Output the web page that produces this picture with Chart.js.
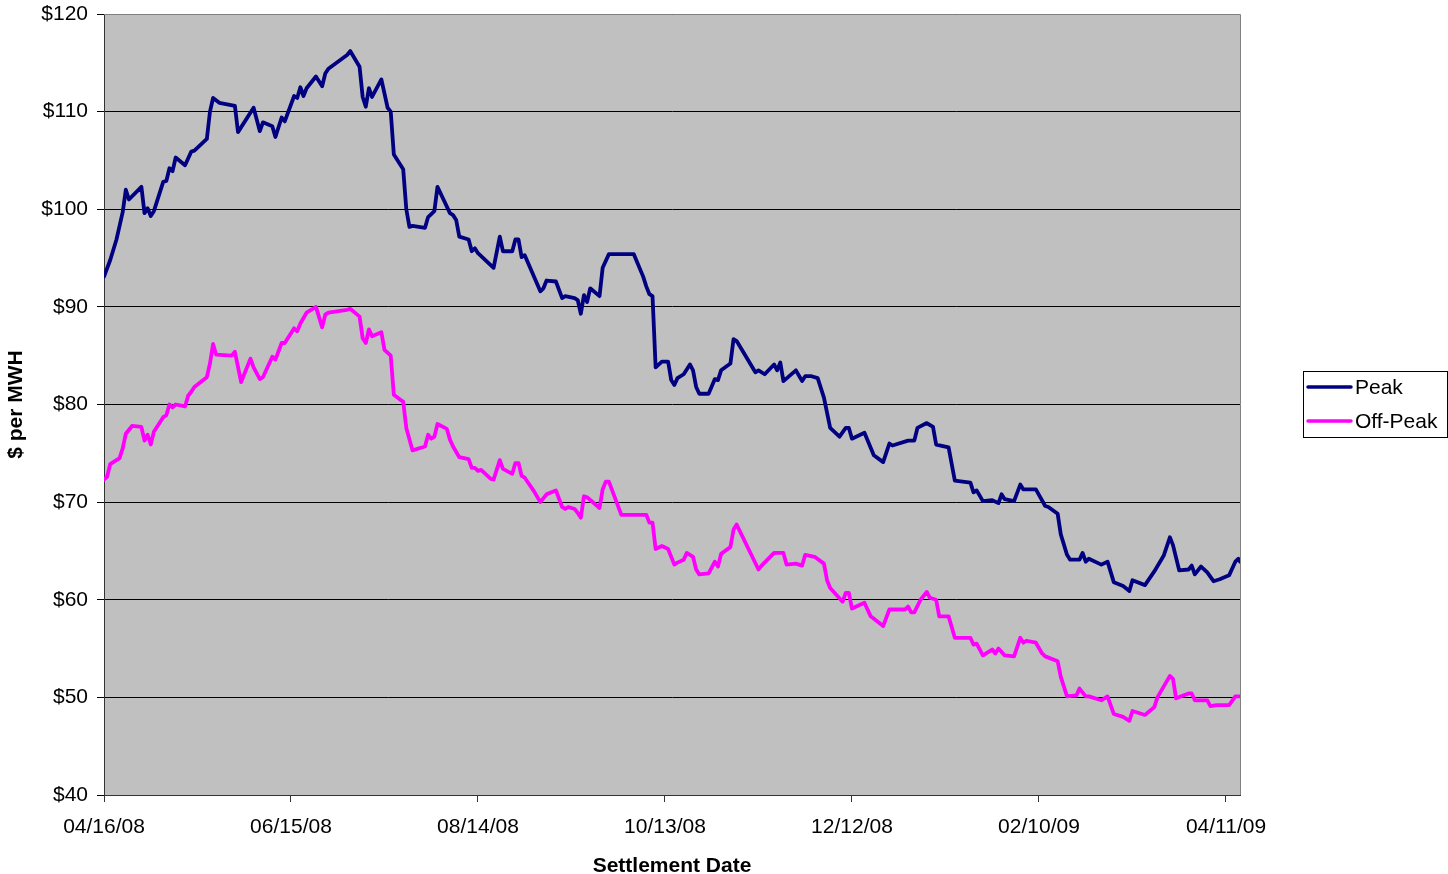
<!DOCTYPE html>
<html><head><meta charset="utf-8">
<script src="https://cdn.jsdelivr.net/npm/chart.js@4.4.1/dist/chart.umd.min.js"></script>
<style>html,body{margin:0;padding:0;background:#fff;overflow:hidden}#wrap{width:1448px;height:874px}</style>
</head><body><div id="wrap"><canvas id="c" width="1448" height="874"></canvas></div>
<script>
// X tick labels (every 60 days from 04/16/08)
const tickLabels = ['04/16/08','06/15/08','08/14/08','10/13/08','12/12/08','02/10/09','04/11/09'];
const seriesNames = ['Peak','Off-Peak'];

// Days since 04/16/08 and $ per MWH
const peakDays = [0,2,4,6,7,8,12,13,14,15,16,19,20,21,22,23,26,28,29,33,34,35,37,42,43,48,50,51,54,55,57,58,61,62,63,64,65,68,70,71,72,78,79,82,83,84,85,86,89,91,92,93,96,97,98,99,103,104,106,107,111,112,113,114,117,118,119,120,125,127,128,131,132,133,134,135,140,141,142,145,147,148,151,152,153,154,155,156,159,160,162,170,173,174,175,176,177,179,181,182,183,184,186,188,189,190,191,194,196,197,198,201,202,203,209,210,212,215,216,217,218,222,224,225,227,229,231,233,236,238,239,240,244,247,250,252,253,258,260,261,264,266,267,271,273,278,279,280,282,285,287,288,289,292,294,295,299,302,303,306,307,309,310,313,314,315,316,320,322,324,327,329,330,334,337,340,342,343,345,348,349,350,352,354,356,358,361,363,364,364.5];
const peakValues = [93.1,94.8,96.9,99.7,102.0,101.0,102.3,99.6,100.1,99.3,99.8,102.8,102.9,104.2,103.9,105.3,104.5,105.9,106.0,107.2,110.0,111.4,110.9,110.6,107.9,110.4,108.0,108.9,108.5,107.4,109.4,109.0,111.6,111.4,112.5,111.6,112.4,113.6,112.6,113.9,114.4,115.8,116.2,114.6,111.5,110.5,112.4,111.5,113.3,110.4,110.0,105.6,104.1,100.0,98.2,98.3,98.1,99.2,99.8,102.3,99.6,99.4,98.9,97.2,96.9,95.7,96.0,95.5,94.0,97.2,95.7,95.7,96.9,96.9,95.1,95.3,91.6,91.9,92.7,92.6,90.9,91.1,90.9,90.7,89.3,91.2,90.5,91.9,91.1,94.0,95.4,95.4,93.1,92.1,91.3,91.1,83.8,84.4,84.4,82.5,82.0,82.7,83.1,84.1,83.5,81.8,81.1,81.1,82.6,82.5,83.5,84.2,86.7,86.5,83.3,83.5,83.1,84.1,83.5,84.3,82.4,83.5,82.4,82.9,82.9,82.7,80.7,77.6,76.7,77.6,77.6,76.5,77.1,74.8,74.1,76.0,75.8,76.3,76.3,77.6,78.1,77.7,75.9,75.6,72.2,72.0,71.0,71.2,70.1,70.2,69.9,70.8,70.3,70.1,71.8,71.3,71.3,69.6,69.5,68.8,66.7,64.6,64.1,64.1,64.8,63.9,64.2,63.6,63.9,61.8,61.4,60.9,62.0,61.5,62.9,64.5,66.4,65.6,63.0,63.1,63.5,62.6,63.4,62.8,61.9,62.1,62.5,63.9,64.2,63.9];

const offPeakDays = [0,1,2,5,6,7,9,12,13,14,15,16,19,20,21,22,23,26,27,28,29,33,34,35,36,41,42,44,47,48,50,51,54,55,57,58,61,62,63,65,68,70,71,72,78,79,82,83,84,85,86,89,90,92,93,95,96,97,99,103,104,105,106,107,110,111,112,114,117,118,119,120,121,124,125,127,128,131,132,133,134,135,138,140,142,145,147,148,149,151,152,153,154,155,159,160,161,162,166,174,175,176,177,179,181,183,184,186,187,189,190,191,194,196,197,198,201,202,203,210,211,215,218,219,222,224,225,228,231,232,233,237,238,239,240,244,246,250,252,257,258,259,260,262,264,265,267,268,271,273,278,279,280,282,285,286,287,289,292,294,295,296,299,301,302,306,307,309,312,313,315,316,320,322,324,327,329,330,334,337,338,340,342,343,344,348,349,350,354,355,357,361,363,364.5];
const offPeakValues = [72.3,72.6,73.9,74.5,75.5,77.0,77.8,77.7,76.3,76.9,75.9,77.2,78.7,78.9,80.0,79.7,80.0,79.8,80.9,81.3,81.8,82.8,84.2,86.2,85.1,85.0,85.4,82.3,84.7,83.8,82.6,82.8,84.9,84.6,86.3,86.3,87.8,87.5,88.3,89.4,90.0,87.9,89.2,89.4,89.7,89.8,89.0,86.8,86.3,87.7,87.0,87.4,85.6,85.0,81.0,80.5,80.3,77.6,75.3,75.7,76.9,76.5,76.7,78.0,77.5,76.4,75.7,74.6,74.4,73.5,73.5,73.2,73.3,72.4,72.3,74.3,73.4,72.9,74.0,74.0,72.7,72.5,71.1,70.0,70.8,71.2,69.5,69.3,69.5,69.3,68.9,68.4,70.6,70.5,69.4,71.3,72.1,72.1,68.7,68.7,67.9,67.9,65.2,65.5,65.2,63.6,63.8,64.1,64.8,64.4,63.1,62.6,62.7,63.9,63.4,64.7,65.4,67.2,67.7,63.1,63.5,64.8,64.8,63.6,63.7,63.5,64.6,64.4,63.7,62.0,61.2,59.8,60.7,60.7,59.1,59.7,58.3,57.3,59.0,59.0,59.3,58.7,58.7,60.0,60.8,60.2,60.0,58.3,58.3,56.1,56.1,55.4,55.5,54.3,54.9,54.5,55.0,54.3,54.2,56.1,55.6,55.8,55.6,54.5,54.2,53.7,52.1,50.1,50.2,50.9,50.1,50.1,49.7,50.1,48.3,48.0,47.6,48.6,48.2,49.0,50.0,51.1,52.2,51.9,49.9,50.4,50.4,49.7,49.7,49.1,49.2,49.2,50.1,50.1];

const seriesColors = ['#000080','#FF00FF'];
const FONT = "'Liberation Sans', Arial, sans-serif";
Chart.defaults.font.family = FONT;
Chart.defaults.color = '#000';

const toPts = (xs, ys) => xs.map((d, i) => ({x: d, y: ys[i]}));

const plotBg = {
  id: 'plotBg',
  beforeDraw(chart) {
    const {ctx, chartArea: a} = chart;
    ctx.save();
    ctx.fillStyle = '#C0C0C0';
    ctx.fillRect(a.left, a.top, a.right - a.left, a.bottom - a.top);
    ctx.restore();
  },
  afterDraw(chart) {
    const {ctx, chartArea: a} = chart;
    ctx.save();
    ctx.strokeStyle = '#808080';
    ctx.lineWidth = 1;
    ctx.beginPath();
    ctx.moveTo(a.left, a.top + 0.5); ctx.lineTo(a.right + 0.5, a.top + 0.5);
    ctx.lineTo(a.right + 0.5, a.bottom);
    ctx.stroke();
    ctx.restore();
  }
};

const boxLegend = {
  id: 'boxLegend',
  afterDraw(chart) {
    const ctx = chart.ctx;
    const x0 = 1303, y0 = 371, w = 144, h = 66;
    ctx.save();
    ctx.fillStyle = '#fff';
    ctx.fillRect(x0, y0, w, h);
    ctx.strokeStyle = '#000';
    ctx.lineWidth = 1;
    ctx.strokeRect(x0 + 0.5, y0 + 0.5, w, h);
    ctx.font = '21px ' + FONT;
    ctx.textBaseline = 'middle';
    chart.data.datasets.forEach((ds, i) => {
      const cy = y0 + 16 + i * 34;
      ctx.strokeStyle = ds.borderColor;
      ctx.lineWidth = 3.5;
      ctx.lineCap = 'round';
      ctx.beginPath();
      ctx.moveTo(x0 + 5, cy); ctx.lineTo(x0 + 48, cy);
      ctx.stroke();
      ctx.fillStyle = '#000';
      ctx.fillText(ds.label, x0 + 52, cy + 1);
    });
    ctx.restore();
  }
};

new Chart(document.getElementById('c'), {
  type: 'line',
  data: {
    datasets: [
      {label: seriesNames[0], data: toPts(peakDays, peakValues), borderColor: seriesColors[0], backgroundColor: seriesColors[0], borderWidth: 3.8, pointRadius: 0, tension: 0, fill: false, borderJoinStyle: 'round', borderCapStyle: 'round'},
      {label: seriesNames[1], data: toPts(offPeakDays, offPeakValues), borderColor: seriesColors[1], backgroundColor: seriesColors[1], borderWidth: 3.8, pointRadius: 0, tension: 0, fill: false, borderJoinStyle: 'round', borderCapStyle: 'round'}
    ]
  },
  options: {
    responsive: false,
    animation: false,
    devicePixelRatio: 1,
    layout: {padding: {top: 14, right: 208, left: 0, bottom: 0}},
    plugins: {legend: {display: false}, tooltip: {enabled: false}},
    scales: {
      x: {
        type: 'linear', min: 0, max: 364.5,
        afterBuildTicks(scale) { scale.ticks = tickLabels.map((t, i) => ({value: i * 60})); },
        afterFit(scale) { scale.height = 79; scale.paddingLeft = 0; scale.paddingRight = 0; },
        ticks: {font: {size: 21}, padding: 13, maxRotation: 0, autoSkip: false,
          callback: (v) => tickLabels[Math.round(v / 60)]},
        grid: {drawOnChartArea: false, drawTicks: true, tickLength: 7, color: '#333'},
        border: {color: '#333', width: 1},
        title: {display: true, text: 'Settlement Date', font: {size: 21, weight: 'bold', lineHeight: 0.7}, padding: {top: 0, bottom: 0}}
      },
      y: {
        min: 40, max: 120,
        afterFit(scale) { scale.width = 104; scale.paddingTop = 0; scale.paddingBottom = 0; },
        ticks: {stepSize: 10, font: {size: 21}, padding: 9, callback: (v) => '$' + v},
        grid: {color: '#000', drawTicks: true, tickLength: 7},
        border: {color: '#333', width: 1},
        title: {display: true, text: '$ per MWH', font: {size: 21, weight: 'bold'}, padding: {top: 4, bottom: 0}}
      }
    }
  },
  plugins: [plotBg, boxLegend]
});
</script></body></html>
